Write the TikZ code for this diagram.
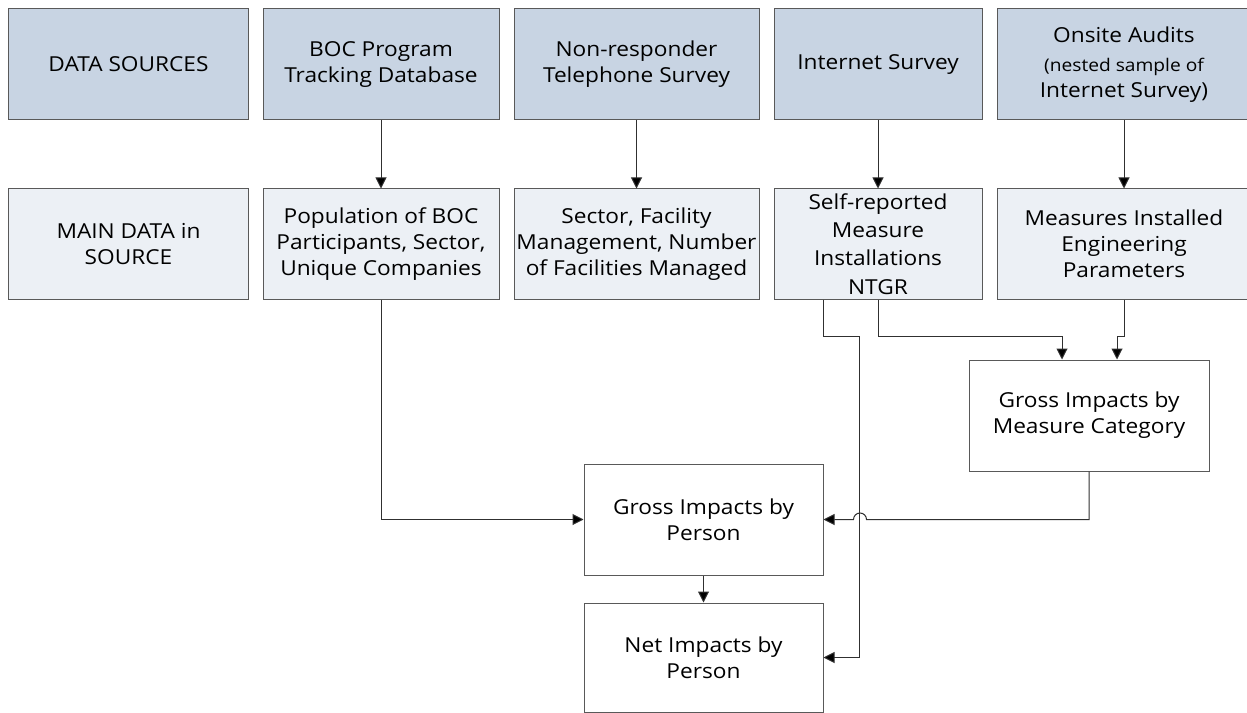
\documentclass[tikz,border=0pt]{standalone}
\usepackage{fontspec}
\setmainfont[FakeStretch=1.1]{Open Sans}
\usetikzlibrary{arrows.meta}
\definecolor{srcfill}{HTML}{C8D4E3}
\definecolor{datfill}{HTML}{ECF0F5}
\definecolor{edgegray}{HTML}{595959}
\definecolor{linecol}{HTML}{303030}
\newcommand{\subfnt}{\fontsize{17.5}{21}\selectfont}
\begin{document}
\begin{tikzpicture}[x=1bp,y=-1bp,
  box/.style={draw=edgegray, line width=1bp, align=center, inner sep=0pt,
    font=\fontsize{20.7}{26}\selectfont, text=black},
  src/.style={box, fill=srcfill, minimum height=111bp},
  dat/.style={box, fill=datfill, minimum height=110bp},
  res/.style={box, fill=white},
  conn/.style={draw=linecol, line width=1bp},
  arr/.style={conn, -{Triangle[length=11bp,width=11bp,fill=black]}}]
\useasboundingbox (0,0) rectangle (1247,713);
\clip (0,0) rectangle (1247,713);
% top row
\node[src, minimum width=239bp] (ds) at (128.5,64.5) {DATA SOURCES};
\node[src, minimum width=236bp] (boc) at (381,64.5) {BOC Program\\Tracking Database};
\node[src, minimum width=245bp] (tel) at (636.5,64.5) {Non-responder\\Telephone Survey};
\node[src, minimum width=208bp] (inet) at (878,64.5) {Internet Survey};
\node[src, minimum width=254bp] (ons) at (1124,64.5) {Onsite Audits\\[3bp]\subfnt (nested sample of\\Internet Survey)};
% second row
\node[dat, minimum width=239bp] (dsd) at (128.5,244) {MAIN DATA in\\SOURCE};
\node[dat, minimum width=236bp] (bocd) at (381,244) {Population of BOC\\Participants, Sector,\\Unique Companies};
\node[dat, minimum width=245bp] (teld) at (636.5,244) {Sector, Facility\\Management, Number\\of Facilities Managed};
\node[dat, minimum width=208bp, font=\fontsize{20.7}{28.5}\selectfont] (inetd) at (878,244) {Self-reported\\Measure\\Installations\\NTGR};
\node[dat, minimum width=254bp] (onsd) at (1124,244) {Measures Installed\\Engineering\\Parameters};
% results
\node[res, minimum width=240bp, minimum height=111bp] (gm) at (1089,415.5) {Gross Impacts by\\Measure Category};
\node[res, minimum width=239bp, minimum height=111bp] (gp) at (703.5,519.5) {Gross Impacts by\\Person};
\node[res, minimum width=239bp, minimum height=109bp] (net) at (703.5,657.5) {Net Impacts by\\Person};
% connectors
\draw[arr] (boc) -- (bocd);
\draw[arr] (tel) -- (teld);
\draw[arr] (inet) -- (inetd);
\draw[arr] (ons) -- (onsd);
\draw[arr] (bocd.south) |- (gp.west);
\coordinate (ntl) at ([xshift=-55bp]inetd.south);
\draw[arr] (ntl) -- ++(0,37) -| ([xshift=36bp]net.east) -- (net.east);
\draw[arr] (inetd.south) -- ++(0,37) -| ([xshift=-27bp]gm.north);
\draw[arr] (onsd.south) -- ++(0,37) -| ([xshift=28bp]gm.north);
\draw[arr] (gm.south) |- ([xshift=43bp]gp.east) arc[start angle=0, end angle=-180, radius=6.5] -- (gp.east);
\draw[arr] (gp) -- (net);
\end{tikzpicture}
\end{document}
